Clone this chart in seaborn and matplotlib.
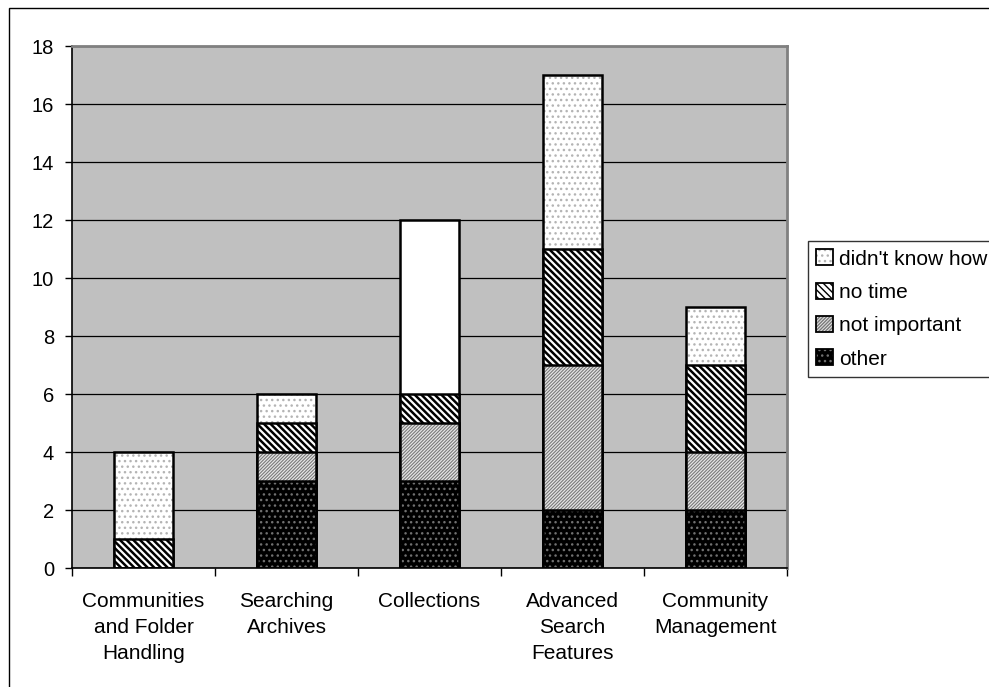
import numpy as np
import pandas as pd
import seaborn as sns
import matplotlib.pyplot as plt
from matplotlib.colors import to_rgba
from matplotlib.patches import Patch, Rectangle

plt.rcParams['font.family'] = ['Liberation Sans', 'DejaVu Sans']

# Values (stacked bottom -> top: other, not important, no time, didn't know how)
categories = ['Communities\nand Folder\nHandling', 'Searching\nArchives', 'Collections',
              'Advanced\nSearch\nFeatures', 'Community\nManagement']
other = [0, 3, 3, 2, 2]
not_important = [0, 1, 2, 5, 2]
no_time = [1, 1, 1, 4, 3]
didnt_know = [3, 1, 6, 6, 2]
series_names = ["didn't know how", 'no time', 'not important', 'other']
y_ticks = [0, 2, 4, 6, 8, 10, 12, 14, 16, 18]

df = pd.DataFrame({'category': categories, 'other': other, 'not important': not_important,
                   'no time': no_time, "didn't know how": didnt_know})
# cumulative heights, drawn from the tallest down so every segment shows
df['cum_other'] = df['other']
df['cum_not important'] = df['cum_other'] + df['not important']
df['cum_no time'] = df['cum_not important'] + df['no time']
df["cum_didn't know how"] = df['cum_no time'] + df["didn't know how"]

BS = chr(92)  # backslash, kept out of string escapes
# face colour, hatch, hatch colour, hatch linewidth
styles = {
    "didn't know how": ('white', '...', '#b4b4b4', 1.0),
    'no time': ('white', BS * 5, 'black', 1.8),
    'not important': ('#e6e6e6', '/' * 10, '#7a7a7a', 0.8),
    'other': ('black', '...', '#707070', 1.0),
}


def restyle(p, face, hatch, hcol, hlw, lw):
    p.set_facecolor(face)
    p.set_edgecolor('black')
    p.set_linewidth(lw)
    p.set_hatch(hatch)
    p._hatch_color = to_rgba(hcol)
    if hasattr(p, 'set_hatch_linewidth'):
        p.set_hatch_linewidth(hlw)


fig = plt.figure(figsize=(9.89, 6.87), dpi=100)
ax = fig.add_axes([72 / 989, 1 - 568 / 687, (787 - 72) / 989, (568 - 46) / 687])
ax.set_facecolor('#c0c0c0')
ax.set_axisbelow(True)

for name in series_names:
    face, hatch, hcol, hlw = styles[name]
    n0 = len(ax.patches)
    with plt.rc_context({'hatch.linewidth': hlw}):
        sns.barplot(data=df, x='category', y='cum_' + name, order=categories, color=face,
                    saturation=1, width=0.41, errorbar=None, ax=ax)
        for p in ax.patches[n0:]:
            restyle(p, face, hatch, hcol, hlw, 1.8)
    if name == "didn't know how":
        # the Collections top segment is plain white in the original
        ax.patches[n0 + 2].set_hatch(None)

ax.set_ylim(0, 18)
ax.set_xlim(-0.5, 4.5)
ax.set_yticks(y_ticks)
ax.grid(axis='y', color='black', linewidth=0.9)
ax.grid(axis='x', visible=False)
ax.tick_params(axis='y', length=5, width=1, pad=8, labelsize=14.5, direction='out')
ax.set_xticks(np.arange(-0.5, 5, 1))
ax.set_xticklabels([''] * 6)
ax.tick_params(axis='x', which='major', length=6, width=1, direction='out')
ax.set_xticks(range(len(categories)), categories, minor=True)
ax.tick_params(axis='x', which='minor', length=0, pad=17, labelsize=15)
for t in ax.get_xticklabels(minor=True):
    t.set_linespacing(1.47)
ax.set_xlabel('')
ax.set_ylabel('')

for s in ['left', 'bottom']:
    ax.spines[s].set_color('black')
    ax.spines[s].set_linewidth(1.2)
for s in ['top', 'right']:
    ax.spines[s].set_color('#808080')
    ax.spines[s].set_linewidth(2)

handles = []
for name in series_names:
    face, hatch, hcol, hlw = styles[name]
    h = Patch()
    with plt.rc_context({'hatch.linewidth': hlw}):
        restyle(h, face, hatch, hcol, hlw, 1.3)
    handles.append(h)
leg = fig.legend(handles, series_names, loc='upper left', bbox_to_anchor=(808 / 989, 1 - 241 / 687),
                 bbox_transform=fig.transFigure, borderaxespad=0, fontsize=15,
                 frameon=True, fancybox=False, handlelength=0.8, handleheight=0.8,
                 handletextpad=0.3, labelspacing=0.68, borderpad=0.4)
leg.get_frame().set_edgecolor('black')
leg.get_frame().set_linewidth(1)

# outer chart border (runs off the right and bottom edges in the original)
fig.patches.append(Rectangle((9 / 989, -0.1), 2, 1 - 8 / 687 + 0.1, transform=fig.transFigure,
                             fill=False, edgecolor='black', linewidth=1))

fig.savefig('out.png', dpi=100)
